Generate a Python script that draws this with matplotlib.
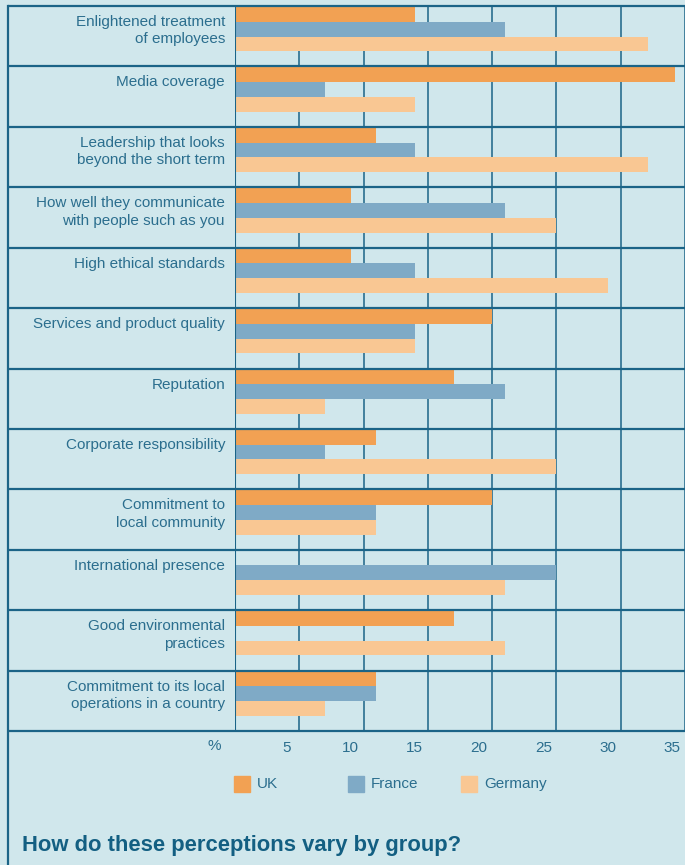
import matplotlib.pyplot as plt
from matplotlib.patches import Rectangle
from matplotlib.lines import Line2D
from matplotlib.transforms import ScaledTranslation, blended_transform_factory

plt.rcParams['font.family'] = ['Liberation Sans', 'DejaVu Sans']

categories = [
    "Enlightened treatment\nof employees",
    "Media coverage",
    "Leadership that looks\nbeyond the short term",
    "How well they communicate\nwith people such as you",
    "High ethical standards",
    "Services and product quality",
    "Reputation",
    "Corporate responsibility",
    "Commitment to\nlocal community",
    "International presence",
    "Good environmental\npractices",
    "Commitment to its local\noperations in a country",
]
uk = [14, 34.2, 11, 9, 9, 20, 17, 11, 20, 0, 17, 11]
france = [21, 7, 14, 21, 14, 14, 21, 7, 11, 25, 0, 11]
germany = [32.1, 14, 32.1, 25, 29, 14, 7, 25, 11, 21, 21, 7]
series = [("UK", uk, "#f2a153"), ("France", france, "#7faac6"), ("Germany", germany, "#f9c793")]
xticks = [5, 10, 15, 20, 25, 30, 35]

bg = "#d0e7ec"
line_c = "#1b6487"
text_c = "#2b6e8e"
title_c = "#135f82"

W, H = 685, 865
fig = plt.figure(figsize=(W / 100, H / 100), dpi=100, facecolor=bg)
ax = fig.add_axes([235 / W, (H - 731) / H, 450 / W, 725 / H])
ax.set_facecolor(bg)

n = len(categories)
bar_h = 0.245
off = 0.015
for k, (name, vals, col) in enumerate(series):
    ys = [i + off + k * bar_h + bar_h / 2 for i in range(n)]
    ax.barh(ys, vals, height=bar_h, color=col, zorder=3, linewidth=0)

ax.set_xlim(0, 35)
ax.set_ylim(n, 0)

# vertical grid lines
for v in xticks:
    ax.axvline(v, color=line_c, lw=1.1, zorder=1)

# row separators spanning from the left border
ytr = ax.get_yaxis_transform()
x_left = (7.5 - 235) / 450
for i in range(n + 1):
    ax.plot([x_left, 1], [i, i], transform=ytr, color=line_c, lw=1.6,
            clip_on=False, zorder=4, solid_capstyle='butt')

# left border of the panel
fig.add_artist(Line2D([7.5 / W, 7.5 / W], [0, (H - 5.5) / H], color=line_c, lw=1.6))

for s in ax.spines.values():
    s.set_visible(False)
ax.axvline(0, color=line_c, lw=1.5, zorder=5)

# category labels
for i, lab in enumerate(categories):
    ax.text(-10 / 450 * 35, i + 0.15, lab, ha='right', va='top', fontsize=11,
            color=text_c, linespacing=1.3)

ax.set_yticks([])
ax.set_xticks(xticks)
ax.set_xticklabels([str(v) for v in xticks])
ax.tick_params(axis='x', length=0, pad=7, labelsize=11, labelcolor=text_c)
shift = ScaledTranslation(-13 / 100, 0, fig.dpi_scale_trans)
for t in ax.get_xticklabels():
    t.set_transform(t.get_transform() + shift)
ax.text(-21 / 450 * 35, -15 / 725, "%", transform=blended_transform_factory(ax.transData, ax.transAxes),
        ha='center', va='center', fontsize=11, color=text_c)

# legend
leg_x = [234, 348, 461]
for (name, vals, col), lx in zip(series, leg_x):
    fig.add_artist(Rectangle((lx / W, (H - 792) / H), 16 / W, 16 / H, color=col, transform=fig.transFigure))
    fig.text((lx + 23) / W, (H - 784) / H, name, ha='left', va='center', fontsize=11, color=text_c)

fig.text(22 / W, (H - 845) / H, "How do these perceptions vary by group?", ha='left', va='center',
         fontsize=15.8, fontweight='bold', color=title_c)

fig.savefig("out.png", dpi=100, facecolor=bg)
